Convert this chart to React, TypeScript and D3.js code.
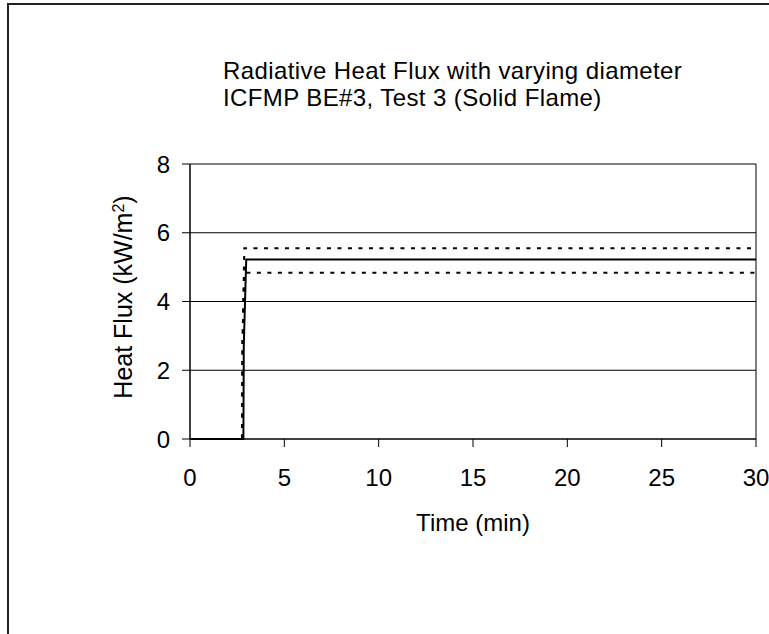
import React from "react";
import * as d3 from "d3";

const titleLines = ["Radiative Heat Flux with varying diameter", "ICFMP BE#3, Test 3 (Solid Flame)"];
const xTicks = [0, 5, 10, 15, 20, 25, 30];
const yTicks = [0, 2, 4, 6, 8];

const solidTime = [0, 2.83, 2.85, 2.98, 30];
const solidFlux = [0, 0, 2.7, 5.22, 5.22];
const upperTime = [0, 2.76, 2.78, 2.88, 30];
const upperFlux = [0, 0, 2.7, 5.55, 5.55];
const lowerTime = [0, 2.76, 2.78, 2.88, 30];
const lowerFlux = [0, 0, 2.7, 4.84, 4.84];

const W = 769;
const H = 634;
const FONT = "'Liberation Sans', Arial, sans-serif";

export default function App() {
  const x = d3.scaleLinear().domain([0, 30]).range([190, 756]);
  const y = d3.scaleLinear().domain([0, 8]).range([439, 164]);
  const line = d3
    .line<[number, number]>()
    .x((d) => x(d[0]))
    .y((d) => y(d[1]));
  const pts = (t: number[], v: number[]) => t.map((ti, i) => [ti, v[i]] as [number, number]);

  return (
    <svg
      width={W}
      height={H}
      style={{ position: "absolute", left: 0, top: 0, background: "#fff" }}
      fontFamily={FONT}
    >
      <rect x={0} y={0} width={W} height={H} fill="#fff" />
      <rect x={8} y={4} width={W + 20} height={H + 20} fill="none" stroke="#222" strokeWidth={2} />
      {titleLines.map((t, i) => (
        <text key={i} x={223} y={79 + i * 27} fontSize={24} letterSpacing={0.4} fill="#000">
          {t}
        </text>
      ))}
      {yTicks.slice(1).map((v) => (
        <line key={v} x1={x(0)} x2={x(30)} y1={y(v)} y2={y(v)} stroke="#000" strokeWidth={1} />
      ))}
      <line x1={x(30)} x2={x(30)} y1={y(8)} y2={y(0)} stroke="#000" strokeWidth={1} />
      <path d={line(pts(upperTime, upperFlux)) || ""} fill="none" stroke="#000" strokeWidth={2} strokeDasharray="4,6.5" />
      <path d={line(pts(lowerTime, lowerFlux)) || ""} fill="none" stroke="#000" strokeWidth={2} strokeDasharray="4,6.5" />
      <path d={line(pts(solidTime, solidFlux)) || ""} fill="none" stroke="#000" strokeWidth={2} />
      <line x1={x(0)} x2={x(0)} y1={y(8)} y2={y(0)} stroke="#000" strokeWidth={1.5} />
      <line x1={x(0)} x2={x(30)} y1={y(0)} y2={y(0)} stroke="#000" strokeWidth={1.5} />
      {yTicks.map((v) => (
        <g key={v}>
          <line x1={x(0) - 8} x2={x(0)} y1={y(v)} y2={y(v)} stroke="#000" strokeWidth={1} />
          <text x={170} y={y(v)} dy="0.36em" textAnchor="end" fontSize={24} fill="#000">
            {v}
          </text>
        </g>
      ))}
      {xTicks.map((v) => (
        <g key={v}>
          <line x1={x(v)} x2={x(v)} y1={y(0)} y2={y(0) + 8} stroke="#000" strokeWidth={1} />
          <text x={x(v)} y={486} textAnchor="middle" fontSize={24} fill="#000">
            {v}
          </text>
        </g>
      ))}
      <text x={(x(0) + x(30)) / 2} y={531} textAnchor="middle" fontSize={24} fill="#000">
        Time (min)
      </text>
      <text
        transform={`translate(132, 297) rotate(-90)`}
        textAnchor="middle"
        fontSize={25}
        fill="#000"
      >
        Heat Flux (kW/m
        <tspan baselineShift="super" fontSize={16}>
          2
        </tspan>
        )
      </text>
    </svg>
  );
}
